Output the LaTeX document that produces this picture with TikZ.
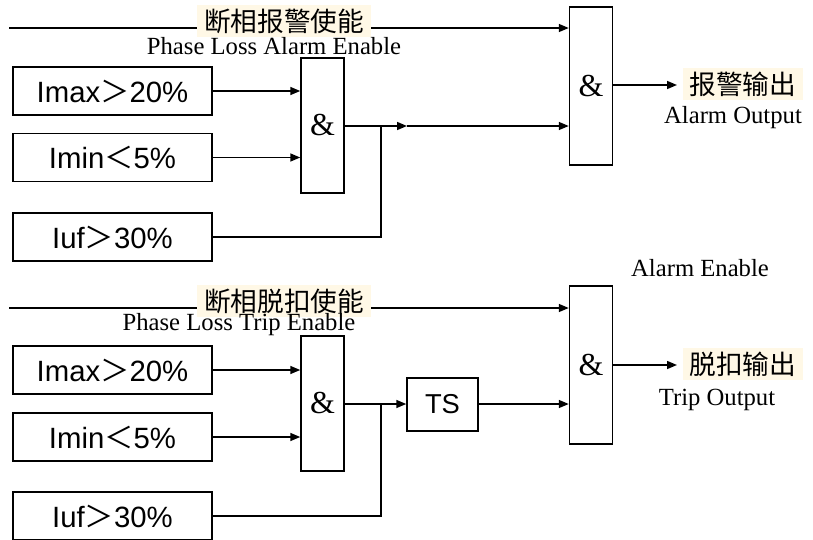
\documentclass[tikz,border=0pt]{standalone}
\usepackage{fontspec}
\setmainfont{Liberation Serif}
\newfontfamily\cjk{Noto Sans CJK SC}
\newfontfamily\arialf{Liberation Sans}
\usetikzlibrary{arrows.meta}
\definecolor{cream}{RGB}{255,248,230}
\newcommand{\fgt}{{\cjk ＞}}
\newcommand{\flt}{{\cjk ＜}}
\begin{document}
\begin{tikzpicture}[x=0.75pt,y=-0.75pt,line width=1.1pt,
  inbox/.style={draw,inner sep=0pt,minimum width=149.25pt,minimum height=36pt,font=\arialf\fontsize{22pt}{22pt}\selectfont},
  gate/.style={draw,inner sep=0pt,minimum width=32.25pt,font=\fontsize{24pt}{24pt}\selectfont},
  tsbox/.style={draw,inner sep=0pt,minimum width=53.25pt,minimum height=39.75pt,font=\arialf\fontsize{20.5pt}{20.5pt}\selectfont},
  cnlabel/.style={fill=cream,inner xsep=5pt,inner ysep=3pt,font=\cjk\fontsize{20pt}{20pt}\selectfont},
  enlabel/.style={inner sep=0pt,font=\fontsize{18.5pt}{18.5pt}\selectfont},
  arr/.style={-{Triangle[length=7.5pt,width=6pt]}}]
\useasboundingbox (0,0) rectangle (813,539);

% ===== top section =====
\node[inbox] (a1) at (112.5,91) {Imax\fgt20\%};
\node[inbox] (a2) at (112.5,157.5) {Imin\flt5\%};
\node[inbox] (a3) at (112.5,237) {Iuf\fgt30\%};
\node[gate,minimum height=101.25pt] (g1) at (322.5,125.5) {\&};
\node[gate,minimum height=118.5pt] (g2) at (591,86) {\&};
\coordinate (s1) at (9,28);
\coordinate (j1) at (381,126);
\coordinate (m1) at (407,126);

\draw[arr] (s1) -- (s1 -| g2.west);
\node[cnlabel] (c1) at (284,21) {断相报警使能};
\node[enlabel] (e1) at (274,46) {Phase Loss Alarm Enable};

\draw[arr] (a1.east) -- (a1.east -| g1.west);
\draw[arr] (a2.east) -- (a2.east -| g1.west);
\draw (g1.east |- j1) -- (j1);
\draw (a3.east) -| (j1);
\draw[arr] (j1) -- (m1);
\draw[arr] (m1) -- (m1 -| g2.west);

\coordinate (o1) at (677,85);
\draw[arr] (g2.east |- o1) -- (o1);
\node[cnlabel,anchor=west] (c2) at (682,84) {报警输出};
\node[enlabel] (e2) at (733,118) {Alarm Output};
\node[enlabel] (e3) at (700,268) {Alarm Enable};

% ===== bottom section =====
\node[inbox] (b1) at (112.5,370) {Imax\fgt20\%};
\node[inbox] (b2) at (112.5,437) {Imin\flt5\%};
\node[inbox] (b3) at (112.5,516) {Iuf\fgt30\%};
\node[gate,minimum height=101.25pt] (h1) at (322.5,403.5) {\&};
\node[gate,minimum height=118.5pt] (h2) at (591,365) {\&};
\node[tsbox] (ts) at (442.5,404.5) {TS};
\coordinate (s2) at (9,308);
\coordinate (j2) at (381,404);

\draw[arr] (s2) -- (s2 -| h2.west);
\node[cnlabel] (c3) at (284,301) {断相脱扣使能};
\node[enlabel] (e4) at (239,325) {Phase Loss Trip Enable};

\draw[arr] (b1.east) -- (b1.east -| h1.west);
\draw[arr] (b2.east) -- (b2.east -| h1.west);
\draw (h1.east |- j2) -- (j2);
\draw (b3.east) -| (j2);
\draw[arr] (j2) -- (j2 -| ts.west);
\draw[arr] (ts.east |- j2) -- (j2 -| h2.west);

\coordinate (o2) at (677,365);
\draw[arr] (h2.east |- o2) -- (o2);
\node[cnlabel,anchor=west] (c4) at (682,364) {脱扣输出};
\node[enlabel] (e5) at (717,400) {Trip Output};
\end{tikzpicture}
\end{document}
